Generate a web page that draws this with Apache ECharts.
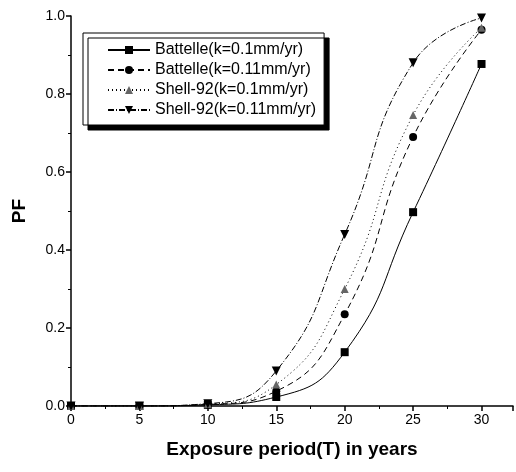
<!DOCTYPE html>
<html><head><meta charset="utf-8">
<script src="https://cdn.jsdelivr.net/npm/echarts@6/dist/echarts.min.js"></script>
<style>html,body{margin:0;padding:0;background:#fff}#c{width:516px;height:472px}</style>
</head><body><div id="c"></div>
<script>
const years = [0, 5, 10, 15, 20, 25, 30];
const battelle01 = [0, 0, 0.003, 0.023, 0.138, 0.497, 0.877];
const battelle011 = [0, 0, 0.004, 0.038, 0.235, 0.69, 0.965];
const shell01 = [0, 0, 0.005, 0.055, 0.30, 0.746, 0.97];
const shell011 = [0, 0, 0.006, 0.09, 0.44, 0.88, 0.995];
const seriesNames = ['Battelle(k=0.1mm/yr)', 'Battelle(k=0.11mm/yr)', 'Shell-92(k=0.1mm/yr)', 'Shell-92(k=0.11mm/yr)'];
const xTicks = [0, 5, 10, 15, 20, 25, 30];

const font = 'Liberation Sans, Arial, sans-serif';
function pts(vals){ return years.map((x,i)=>[x, vals[i]]); }
const chart = echarts.init(document.getElementById('c'));
chart.setOption({
  animation: false,
  backgroundColor: '#fff',
  grid: {left: 71, right: 0, top: 16, bottom: 66},
  legend: {
    left: 83, top: 33, orient: 'vertical',
    backgroundColor: '#fff', borderColor: '#000', borderWidth: 1,
    shadowColor: '#000', shadowOffsetX: 5, shadowOffsetY: 5, shadowBlur: 0,
    padding: [9, 8, 7, 24], itemGap: 4, itemWidth: 42, itemHeight: 10,
    textStyle: {fontFamily: font, fontSize: 16, color: '#000'},
    data: seriesNames
  },
  xAxis: {
    type: 'value', min: 0, max: 32.3, interval: 5,
    axisLine: {lineStyle: {color: '#000', width: 1.5}},
    axisTick: {length: 5, lineStyle: {color: '#000', width: 1.5}},
    minorTick: {show: true, splitNumber: 2, length: 3, lineStyle: {color: '#000'}},
    splitLine: {show: false},
    axisLabel: {fontFamily: font, fontSize: 14, color: '#000', margin: 7,
      formatter: v => xTicks.includes(v) ? String(v) : ''},
    name: 'Exposure period(T) in years', nameLocation: 'middle', nameGap: 34,
    nameTextStyle: {fontFamily: font, fontSize: 19, fontWeight: 'bold', color: '#000'}
  },
  yAxis: {
    type: 'value', min: 0, max: 1, interval: 0.2,
    axisLine: {show: true, lineStyle: {color: '#000', width: 1.5}},
    axisTick: {show: true, length: 5, lineStyle: {color: '#000', width: 1.5}},
    minorTick: {show: true, splitNumber: 2, length: 3, lineStyle: {color: '#000'}},
    splitLine: {show: false},
    axisLabel: {fontFamily: font, fontSize: 14, color: '#000', margin: 6,
      formatter: v => v.toFixed(1)},
    name: 'PF', nameLocation: 'middle', nameGap: 42, nameRotate: 90,
    nameTextStyle: {fontFamily: font, fontSize: 19, fontWeight: 'bold', color: '#000'}
  },
  series: [
    {name: seriesNames[0], type: 'line', smooth: true, data: pts(battelle01),
     symbol: 'rect', symbolSize: 8, itemStyle: {color: '#000'},
     lineStyle: {color: '#000', width: 1, type: 'solid'}},
    {name: seriesNames[1], type: 'line', smooth: true, data: pts(battelle011),
     symbol: 'circle', symbolSize: 8, itemStyle: {color: '#000'},
     lineStyle: {color: '#000', width: 1, type: [6, 4]}},
    {name: seriesNames[2], type: 'line', smooth: true, data: pts(shell01),
     symbol: 'triangle', symbolSize: 8, itemStyle: {color: '#666'},
     lineStyle: {color: '#000', width: 1, type: [1, 3]}},
    {name: seriesNames[3], type: 'line', smooth: true, data: pts(shell011),
     symbol: 'triangle', symbolRotate: 180, symbolSize: 9, itemStyle: {color: '#000'},
     lineStyle: {color: '#000', width: 1, type: [6, 2, 1, 2]}}
  ]
});
</script></body></html>
